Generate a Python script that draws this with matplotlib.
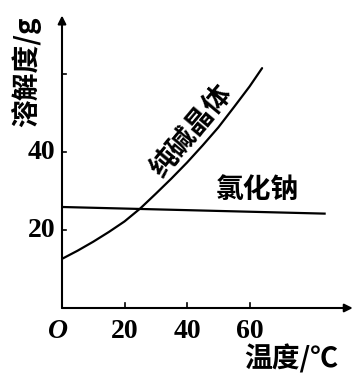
import matplotlib
matplotlib.use("Agg")
import matplotlib.pyplot as plt

plt.rcParams['font.family'] = ['Noto Sans CJK SC', 'DejaVu Sans']

# 纯碱晶体 solubility curve
soda_t = [0, 5, 10, 15, 20, 25, 30, 35, 40, 45, 50, 55, 60, 64]
soda_s = [12.6, 14.7, 17.0, 19.5, 22.2, 25.5, 29.3, 33.2, 37.3, 41.7, 46.3, 51.5, 56.8, 61.5]

# 氯化钠 line
nacl_t = [0, 84]
nacl_s = [25.9, 24.2]

x_ticks = [20, 40, 60]
y_ticks = [20, 40, 60]
x_labels = ["20", "40", "60"]
y_labels = ["20", "40"]

W, H = 360, 381
fig = plt.figure(figsize=(W / 100, H / 100), dpi=100)
ax = fig.add_axes([62 / W, 1 - 308 / H, 297 / W, 296.4 / H])
ax.set_xlim(0, 95)
ax.set_ylim(0, 76)
ax.axis("off")

ax.plot(soda_t, soda_s, color="black", lw=1.6, solid_capstyle="round",
        solid_joinstyle="round")
ax.plot(nacl_t, nacl_s, color="black", lw=1.6)

# axes with arrows
ax.annotate("", xy=(0, 75), xytext=(0, 0),
            arrowprops=dict(arrowstyle="-|>", color="black", lw=1.5,
                            mutation_scale=12, shrinkA=0, shrinkB=0))
ax.annotate("", xy=(93, 0), xytext=(0, 0),
            arrowprops=dict(arrowstyle="-|>", color="black", lw=1.5,
                            mutation_scale=12, shrinkA=0, shrinkB=0))

for t in x_ticks:
    ax.plot([t, t], [0, 1.3], color="black", lw=1.2)
for s in y_ticks:
    ax.plot([0, 1.3], [s, s], color="black", lw=1.2)

num_font = dict(family="Liberation Serif", fontweight="bold", fontsize=20)
for t, lab in zip(x_ticks, x_labels):
    ax.text(t, -2.8, lab, ha="center", va="top", **num_font)
for s, lab in zip(y_ticks, y_labels):
    ax.text(-2.2, s, lab, ha="right", va="center", **num_font)
ax.text(-1.2, -2.8, "O", ha="center", va="top", family="Liberation Serif",
        fontweight="bold", fontstyle="italic", fontsize=20)

fig.text(26 / W, 1 - 72 / H, "溶解度/g", rotation=90, ha="center", va="center",
         fontsize=20, fontweight="bold")
fig.text(291 / W, 1 - 359 / H, "温度/℃", ha="center", va="center",
         fontsize=20, fontweight="bold")
fig.text(257 / W, 1 - 190 / H, "氯化钠", ha="center", va="center",
         fontsize=20, fontweight="bold")
fig.text(192 / W, 1 - 132 / H, "纯碱晶体", rotation=50, ha="center", va="center",
         fontsize=20, fontweight="bold")

fig.savefig("out.png", dpi=100, facecolor="white")
